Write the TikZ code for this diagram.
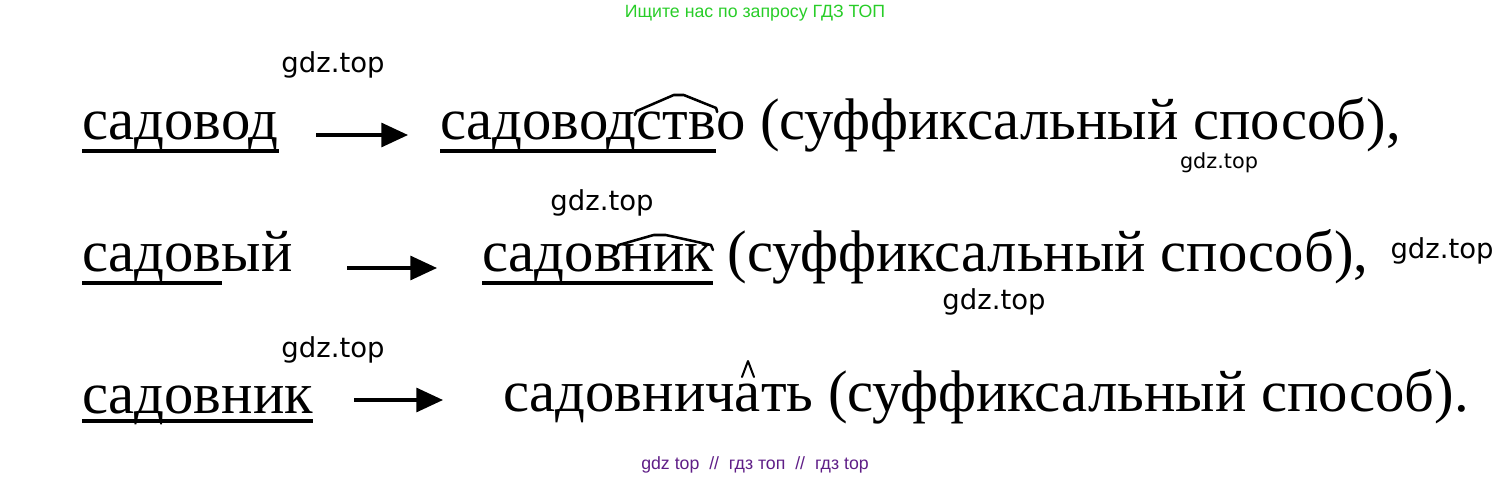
\documentclass[tikz,border=0pt]{standalone}
\usepackage{fontspec}
\setmainfont{Liberation Serif}
\newfontfamily\wmfont{DejaVu Sans}
\newfontfamily\lsans{Liberation Sans}
\usetikzlibrary{calc,arrows.meta}
\definecolor{wmgreen}{RGB}{40,205,40}
\definecolor{wmpurple}{RGB}{95,30,135}
\begin{document}
\begin{tikzpicture}[x=0.75pt,y=-0.75pt,
  word/.style={anchor=base west,inner sep=0pt,outer sep=0pt,font=\fontsize{44}{53}\selectfont},
  ul/.style={line width=2.4pt},
  roof/.style={line width=1.9pt,line join=round,line cap=round},
  arr/.style={line width=2.3pt,-{Triangle[length=20pt,width=18pt]}},
  gdz/.style={font=\wmfont\fontsize{20.6}{24}\selectfont,anchor=base,inner sep=0pt},
  gdzs/.style={font=\wmfont\fontsize{15.6}{18}\selectfont,anchor=base,inner sep=0pt},
  banner/.style={font=\lsans\fontsize{13.3}{16}\selectfont,anchor=base,inner sep=0pt}]
\useasboundingbox (0,0) rectangle (1510,478);

% banners
\node[banner,text=wmgreen] (top) at (755,18) {Ищите нас по запросу ГДЗ ТОП};
\node[banner,text=wmpurple] (bottom) at (755,469) {gdz top \ // \ гдз топ \ // \ гдз top};

% watermarks
\node[gdz] (w1) at (333,73) {gdz.top};
\node[gdzs] (w2) at (1219,168) {gdz.top};
\node[gdz] (w3) at (602,210) {gdz.top};
\node[gdz] (w4) at (1442,258) {gdz.top};
\node[gdz] (w5) at (994,309) {gdz.top};
\node[gdz] (w6) at (333,357) {gdz.top};

% row 1
\node[word] (a1) at (82,139) {садовод};
\node[word] (b1) at (440,139) {садовод};
\node[word] (b1s) at (b1.base east) {ств};
\node[word] (b1e) at (b1s.base east) {о (суффиксальный способ),};
\draw[ul] (a1.base west |- 0,151) -- (a1.base east |- 0,151);
\draw[ul] (b1.base west |- 0,151) -- (b1s.base east |- 0,151);
\draw[roof] ($(b1s.base west)+(-2,-24)$) -- ($(b1s.base west)+(0,-28)$) -- ($(b1s.base west)+(37,-44)$) -- ($(b1s.base west)+(47,-44)$) -- ($(b1s.base east)+(0,-31)$) -- ($(b1s.base east)+(1,-27)$);
\coordinate (s1) at (316,135);
\coordinate (t1) at (408,135);
\draw[arr] (s1) -- (t1);

% row 2
\node[word] (a2) at (82,271) {садов};
\node[word] (a2e) at (a2.base east) {ый};
\draw[ul] (a2.base west |- 0,283) -- (a2.base east |- 0,283);
\node[word] (b2) at (482,271) {садов};
\node[word] (b2s) at (b2.base east) {ник};
\node[word] (b2e) at (b2s.base east) {\ (суффиксальный способ),};
\draw[ul] (b2.base west |- 0,283) -- (b2s.base east |- 0,283);
\draw[roof] ($(b2s.base west)+(-5,-21)$) -- ($(b2s.base west)+(-3,-26)$) -- ($(b2s.base west)+(32,-36)$) -- ($(b2s.base west)+(44,-36)$) -- ($(b2s.base east)+(-2,-26)$) -- ($(b2s.base east)+(0,-21)$);
\coordinate (s2) at (347,268);
\coordinate (t2) at (437,268);
\draw[arr] (s2) -- (t2);

% row 3
\node[word] (a3) at (82,413) {садовник};
\draw[ul] (a3.base west |- 0,421) -- (a3.base east |- 0,421);
\node[word] (b3) at (503,411) {садовнич};
\node[word] (b3s) at (b3.base east) {а};
\node[word] (b3e) at (b3s.base east) {ть (суффиксальный способ).};
\draw[roof,line width=1.5pt] ($(b3s.base)+(-6,-34)$) -- ($(b3s.base)+(0,-50)$) -- ($(b3s.base)+(6,-34)$);
\coordinate (s3) at (354,400);
\coordinate (t3) at (443,400);
\draw[arr] (s3) -- (t3);
\end{tikzpicture}
\end{document}
